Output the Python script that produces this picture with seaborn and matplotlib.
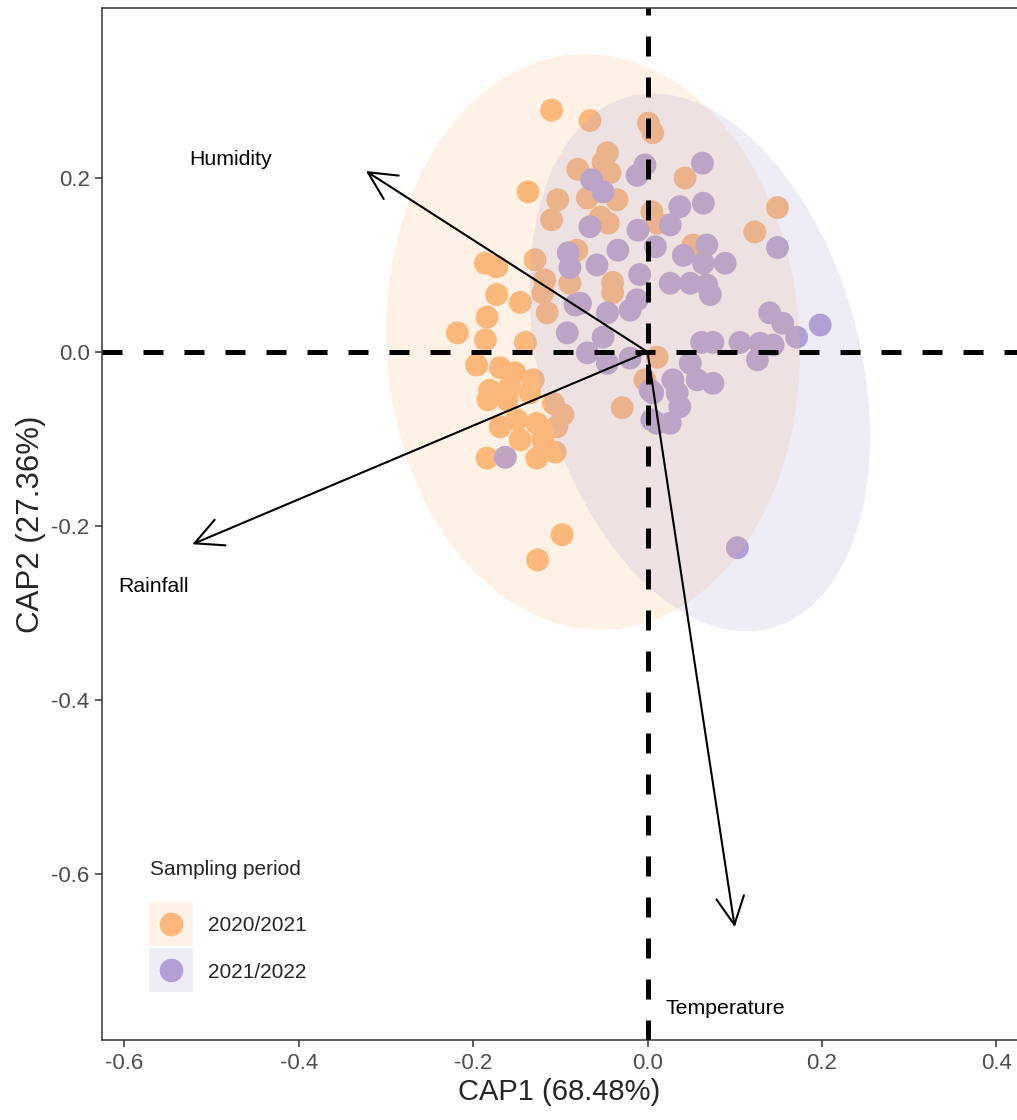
import matplotlib
matplotlib.use("Agg")
import matplotlib.pyplot as plt
import pandas as pd
import seaborn as sns
from matplotlib.lines import Line2D
from matplotlib.patches import Ellipse
from matplotlib.legend_handler import HandlerTuple, HandlerLine2D

# CAP scores, sampling period 2020/2021
orange_x = [-0.110, -0.066, 0.001, 0.006, -0.137, -0.046, -0.080, -0.043, -0.051, -0.103,
            -0.110, -0.069, -0.035, -0.045, -0.054, -0.129, -0.081, -0.118, -0.040, -0.186,
            -0.173, -0.089, 0.043, 0.149, 0.123, 0.005, 0.011, 0.052, -0.173, -0.146,
            -0.184, -0.218, -0.186, -0.140, -0.196, -0.169, -0.152, -0.131, -0.181, -0.158,
            -0.183, -0.161, -0.135, -0.108, -0.097, -0.169, -0.150, -0.127, -0.146, -0.120,
            -0.104, -0.184, -0.127, -0.106, -0.029, -0.120, -0.115, -0.040, 0.011, -0.003,
            -0.098, -0.126]
orange_y = [0.278, 0.266, 0.263, 0.252, 0.184, 0.229, 0.210, 0.206, 0.218, 0.175,
            0.152, 0.177, 0.175, 0.148, 0.155, 0.106, 0.117, 0.083, 0.080, 0.102,
            0.098, 0.079, 0.200, 0.166, 0.138, 0.161, 0.148, 0.123, 0.066, 0.057,
            0.040, 0.022, 0.014, 0.011, -0.015, -0.018, -0.024, -0.032, -0.044, -0.040,
            -0.055, -0.055, -0.047, -0.059, -0.072, -0.086, -0.078, -0.082, -0.101, -0.101,
            -0.086, -0.122, -0.122, -0.115, -0.064, 0.068, 0.045, 0.068, -0.006, -0.032,
            -0.210, -0.239]

# CAP scores, sampling period 2021/2022
purple_x = [-0.064, -0.051, -0.003, -0.012, -0.066, -0.034, -0.091, -0.089, -0.058, -0.011,
            -0.009, 0.063, 0.064, 0.037, 0.026, 0.149, 0.068, 0.041, 0.089, 0.064,
            0.009, 0.026, 0.049, 0.068, -0.163, -0.077, -0.046, -0.020, -0.092, -0.051,
            -0.069, -0.046, -0.020, -0.012, 0.003, 0.005, 0.072, 0.140, 0.155, 0.198,
            0.171, 0.062, 0.075, 0.106, 0.129, 0.144, 0.126, 0.049, 0.029, 0.075,
            0.057, 0.006, 0.034, 0.037, 0.026, 0.011, 0.103, -0.083]
purple_y = [0.198, 0.184, 0.215, 0.203, 0.144, 0.117, 0.114, 0.097, 0.100, 0.140,
            0.089, 0.217, 0.171, 0.167, 0.146, 0.120, 0.123, 0.111, 0.102, 0.102,
            0.121, 0.079, 0.079, 0.077, -0.121, 0.056, 0.045, 0.048, 0.022, 0.017,
            -0.001, -0.013, -0.007, 0.060, -0.044, -0.078, 0.066, 0.045, 0.033, 0.031,
            0.017, 0.011, 0.011, 0.011, 0.010, 0.008, -0.009, -0.013, -0.032, -0.036,
            -0.032, -0.047, -0.047, -0.063, -0.082, -0.082, -0.225, 0.054]

periods = ["2020/2021", "2021/2022"]
point_colors = ["#FDB77A", "#B39FD6"]
ellipse_colors = ["#FAB97D", "#AAA5D2"]

# 95% ellipses: centre x, centre y, width, height, angle
ell_cx = [-0.0625, 0.060]
ell_cy = [0.0115, -0.012]
ell_w = [0.474, 0.367]
ell_h = [0.662, 0.632]
ell_angle = [3, 15]

# environmental vectors
env_names = ["Humidity", "Rainfall", "Temperature"]
env_x = [-0.323, -0.522, 0.100]
env_y = [0.208, -0.221, -0.661]
env_label_x = [-0.478, -0.567, 0.089]
env_label_y = [0.221, -0.269, -0.754]


class CenteredMarkers(HandlerLine2D):
    # drop the legend markers a bit so they sit level with the labels
    def create_artists(self, legend, orig_handle, xdescent, ydescent, width, height,
                       fontsize, trans):
        return super().create_artists(legend, orig_handle, xdescent, ydescent, width,
                                      height - 9.5, fontsize, trans)


sns.set_theme(style="ticks")
plt.rcParams["font.family"] = ["Liberation Sans", "DejaVu Sans"]
plt.rcParams["axes.unicode_minus"] = False

df = pd.DataFrame({
    "CAP1": orange_x + purple_x,
    "CAP2": orange_y + purple_y,
    "period": [periods[0]] * len(orange_x) + [periods[1]] * len(purple_x),
})

fig = plt.figure(figsize=(10.17, 11.2), dpi=100)
ax = fig.add_axes([0.1003, 0.0714, 0.8997, 0.9215])

sns.scatterplot(data=df, x="CAP1", y="CAP2", hue="period", hue_order=periods,
                palette=point_colors, s=270, linewidth=0, alpha=1, legend=False,
                ax=ax, zorder=2)

# ellipses drawn over points, like ggplot stat_ellipse polygons
for i in range(2):
    ax.add_patch(Ellipse((ell_cx[i], ell_cy[i]), ell_w[i], ell_h[i], angle=ell_angle[i],
                         facecolor=ellipse_colors[i], alpha=0.2, edgecolor="none",
                         zorder=3))

# dashed reference lines
ax.axhline(0, color="black", lw=3.6, ls=(0, (4, 4.2)), zorder=4)
ax.axvline(0, color="black", lw=3.6, ls=(0, (4, 4.2)), zorder=4)

# arrows + labels
for name, x, y, lx, ly in zip(env_names, env_x, env_y, env_label_x, env_label_y):
    ax.annotate("", xy=(x, y), xytext=(0, 0),
                arrowprops=dict(arrowstyle="->,head_length=1.0,head_width=0.5",
                                mutation_scale=20, lw=1.5, color="black",
                                shrinkA=0, shrinkB=0),
                zorder=5)
    ax.text(lx, ly, name, ha="center", va="center", fontsize=15.3, color="black", zorder=5)

ax.set_xlim(-0.6256, 0.4237)
ax.set_ylim(-0.7908, 0.3954)
ax.set_xticks([-0.6, -0.4, -0.2, 0.0, 0.2, 0.4])
ax.set_xticklabels(["-0.6", "-0.4", "-0.2", "0.0", "0.2", "0.4"])
ax.set_yticks([-0.6, -0.4, -0.2, 0.0, 0.2])
ax.set_yticklabels(["-0.6", "-0.4", "-0.2", "0.0", "0.2"])
ax.tick_params(axis="both", labelsize=16, labelcolor="#4D4D4D", color="#333333",
               length=5, width=1.1, pad=4)
ax.set_xlabel("CAP1 (68.48%)", fontsize=21, labelpad=3)
ax.set_ylabel("CAP2 (27.36%)", fontsize=22.5, labelpad=4)

for side in ["left", "bottom", "top"]:
    ax.spines[side].set_color("#333333")
    ax.spines[side].set_linewidth(1.1)
ax.spines["right"].set_visible(False)

# legend: ellipse-coloured square key with the point on it
handles = []
for i in range(2):
    key = Line2D([], [], marker="s", ls="none", markersize=31.5, alpha=0.2,
                 markerfacecolor=ellipse_colors[i], markeredgewidth=0)
    dot = Line2D([], [], marker="o", ls="none", markersize=17,
                 markerfacecolor=point_colors[i], markeredgewidth=0)
    handles.append((key, dot))

leg = ax.legend(handles, periods, title="Sampling period\n", loc="lower left",
                bbox_to_anchor=(0.052, 0.045), frameon=False, fontsize=15,
                title_fontsize=15,
                handler_map={tuple: HandlerTuple(ndivide=1), Line2D: CenteredMarkers()},
                handlelength=2.05, handleheight=2.9, labelspacing=0.1,
                handletextpad=0.75, borderpad=0, borderaxespad=0, alignment="left")
leg.set_zorder(6)

fig.savefig("out.png", dpi=100)
